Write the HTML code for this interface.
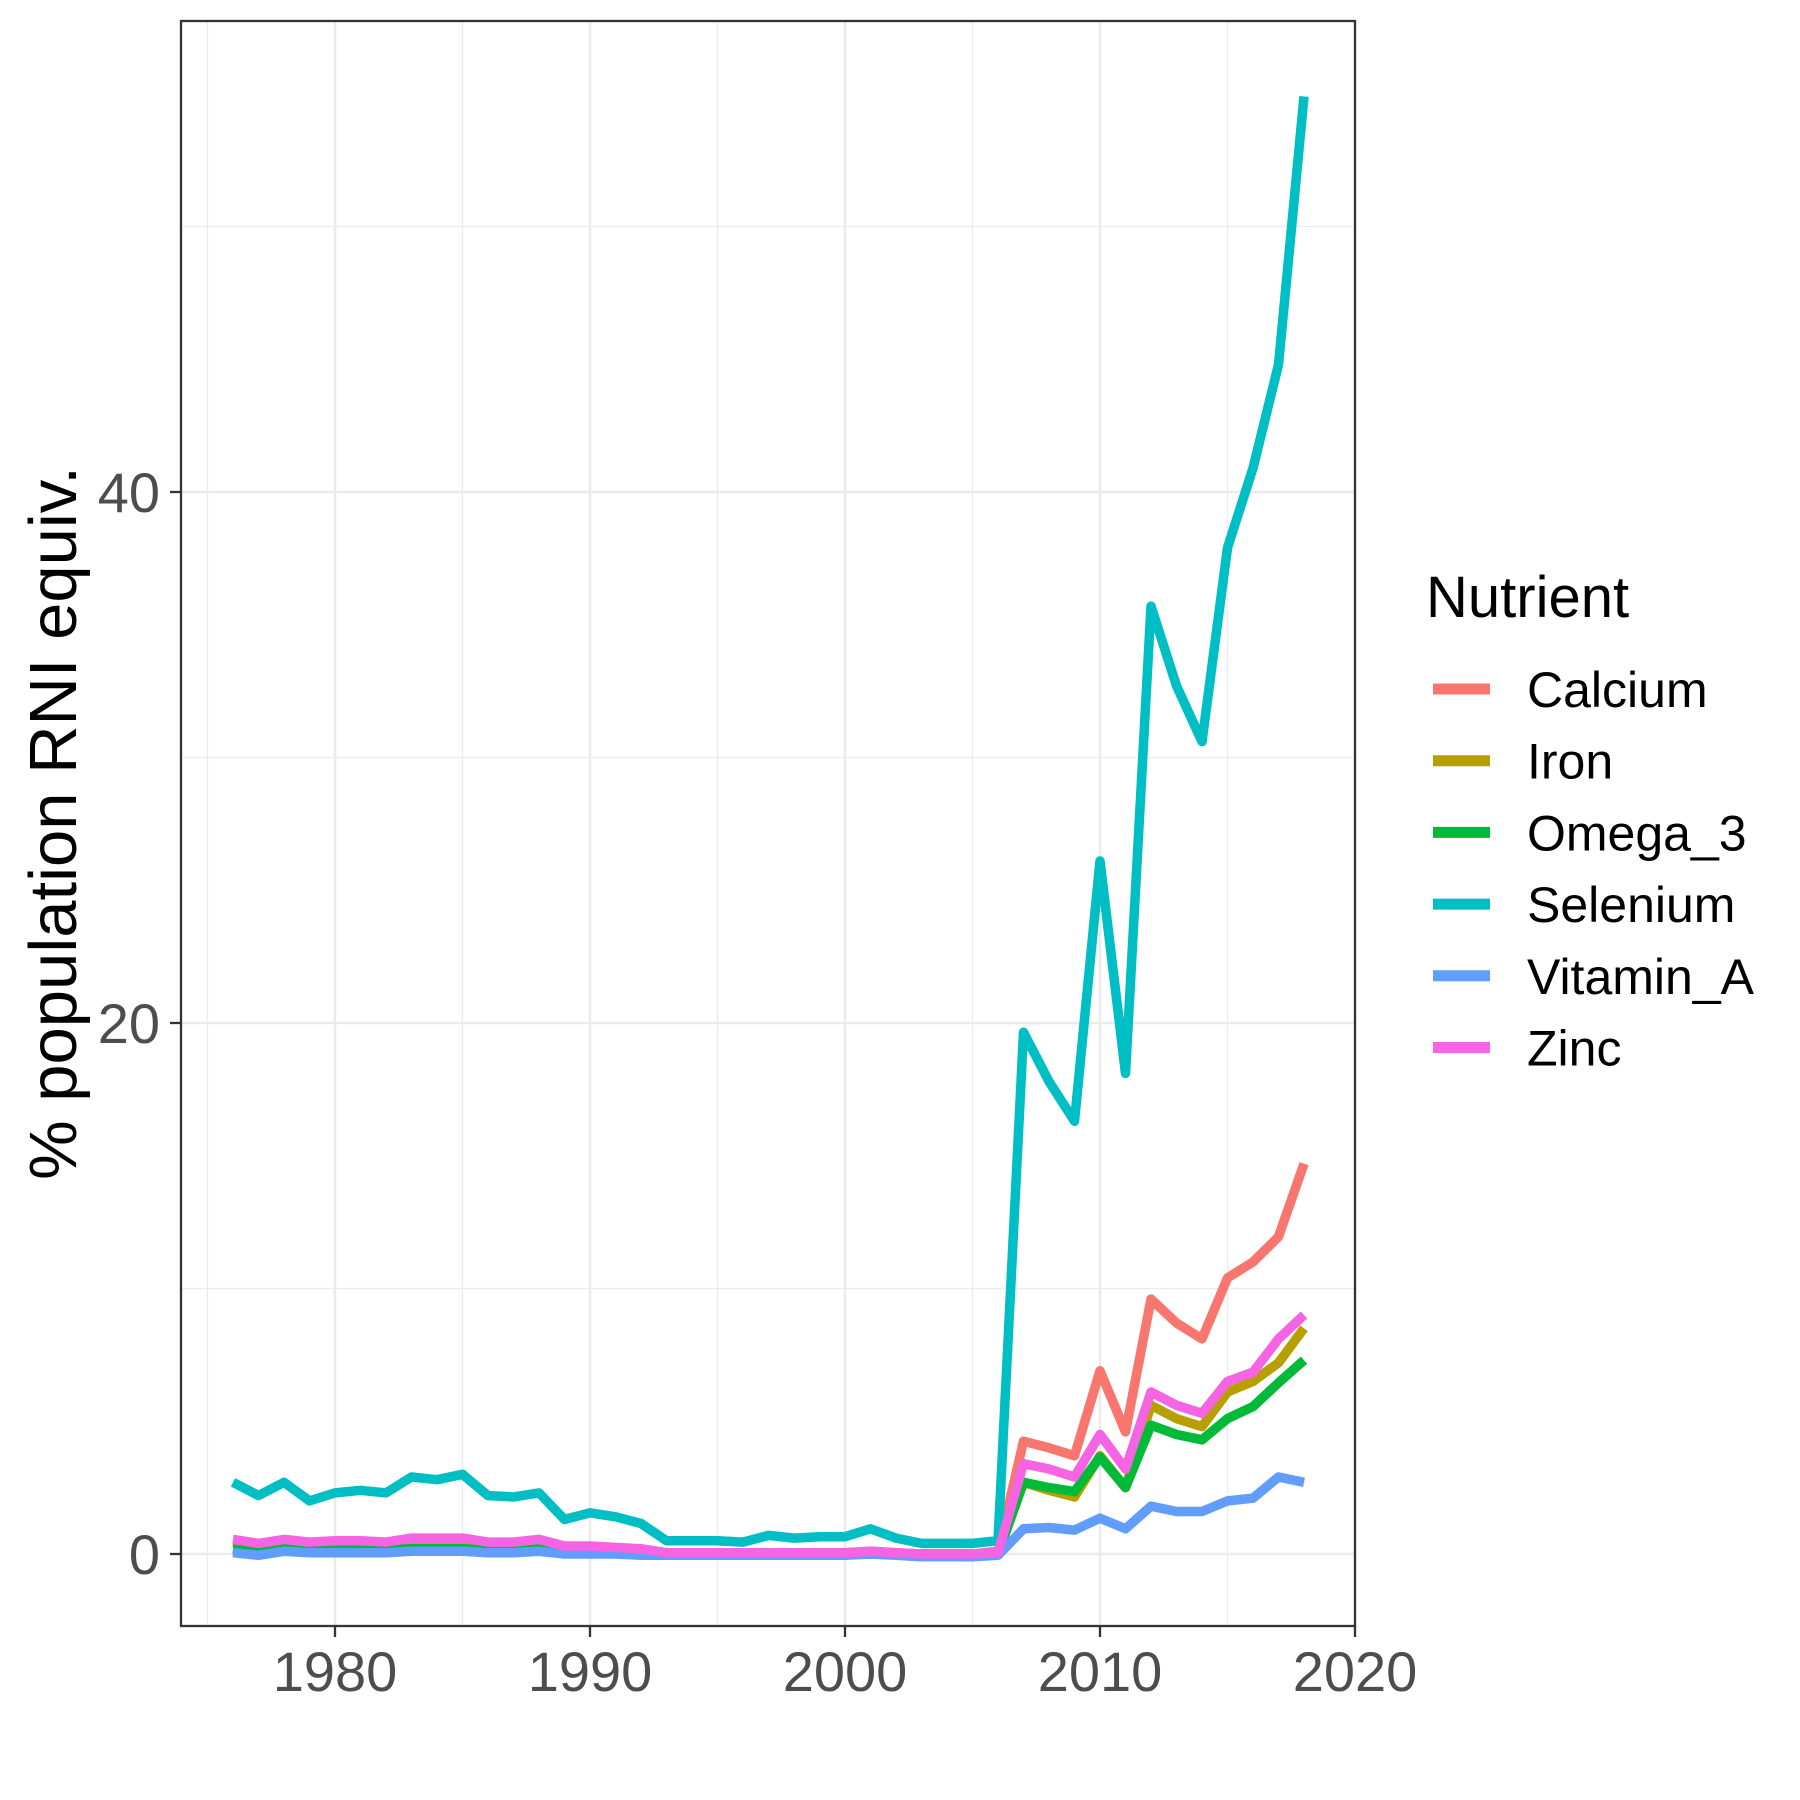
<!DOCTYPE html>
<html><head><meta charset="utf-8">
<style>
html,body{margin:0;padding:0;background:#fff;}
svg{display:block;font-family:"Liberation Sans",Arial,sans-serif;}
</style></head>
<body>
<svg id="chart" width="1800" height="1800" viewBox="0 0 1800 1800" xmlns="http://www.w3.org/2000/svg">
<rect x="0" y="0" width="1800" height="1800" fill="#fff"/>
<g id="grid"></g>
<g id="series"></g>
<rect x="181" y="21" width="1174" height="1605" fill="none" stroke="#333" stroke-width="2.3"/>
<g id="axes"></g>
<text x="0" y="0" transform="translate(76,823) rotate(-90)" text-anchor="middle" font-size="67" fill="#000">% population RNI equiv.</text>
<g id="legend">
<text x="1426" y="617" font-size="58" fill="#000">Nutrient</text>
</g>
</svg>
<script>
const years = [];
for (let y = 1976; y <= 2018; y++) years.push(y);
const seriesNames = ["Calcium","Iron","Omega_3","Selenium","Vitamin_A","Zinc"];
const colors = ["#F8766D","#B79F00","#00BA38","#00BFC4","#619CFF","#F564E3"];
const calcium = [0.45,0.3,0.45,0.35,0.4,0.4,0.35,0.5,0.5,0.5,0.4,0.4,0.45,0.25,0.25,0.2,0.15,0.05,0.05,0.05,0.05,0.05,0.05,0.05,0.05,0.1,0.05,0.0,0.0,0.0,0.1,4.25,4.0,3.7,6.9,4.6,9.6,8.7,8.1,10.4,11.0,11.95,14.7];
const iron = [0.15,0.05,0.15,0.1,0.1,0.1,0.1,0.15,0.15,0.15,0.1,0.1,0.15,0.05,0.05,0.05,0.05,0.0,0.0,0.0,0.0,0.0,0.0,0.0,0.0,0.0,0.0,0.0,0.0,0.0,0.0,2.7,2.4,2.15,3.7,2.5,5.6,5.1,4.8,6.1,6.5,7.2,8.5];
const omega3 = [0.2,0.1,0.2,0.15,0.15,0.15,0.15,0.2,0.2,0.2,0.15,0.15,0.2,0.1,0.1,0.1,0.05,0.0,0.0,0.0,0.0,0.0,0.0,0.0,0.0,0.0,0.0,0.0,0.0,0.0,0.0,2.7,2.5,2.35,3.65,2.5,4.85,4.5,4.3,5.1,5.55,6.45,7.3];
const selenium = [2.7,2.2,2.7,2.0,2.3,2.4,2.3,2.9,2.8,3.0,2.2,2.15,2.3,1.3,1.55,1.4,1.15,0.5,0.5,0.5,0.45,0.7,0.6,0.65,0.65,0.95,0.6,0.4,0.4,0.4,0.5,19.65,17.8,16.3,26.1,18.1,35.7,32.7,30.6,37.9,40.9,44.8,54.9];
const vitaminA = [0.05,-0.05,0.1,0.05,0.05,0.05,0.05,0.1,0.1,0.1,0.05,0.05,0.1,0.0,0.0,0.0,-0.05,-0.05,-0.05,-0.05,-0.05,-0.05,-0.05,-0.05,-0.05,0.0,-0.05,-0.1,-0.1,-0.1,-0.05,0.95,1.0,0.9,1.35,0.95,1.8,1.6,1.6,2.0,2.1,2.9,2.7];
const zinc = [0.55,0.4,0.55,0.45,0.5,0.5,0.45,0.6,0.6,0.6,0.45,0.45,0.55,0.3,0.3,0.25,0.2,0.05,0.05,0.05,0.05,0.05,0.05,0.05,0.05,0.1,0.05,0.0,0.0,0.0,0.05,3.4,3.2,2.9,4.5,3.2,6.1,5.6,5.3,6.5,6.85,8.1,9.0];
const xTicks = [1980,1990,2000,2010,2020];
const yTicks = [0,20,40];
const xMinor = [1975,1985,1995,2005,2015];
const yMinor = [10,30,50];

const NS = "http://www.w3.org/2000/svg";
const PL = 181, PR = 1355, PT = 21, PB = 1626;
function xs(v){ return 335 + (v - 1980) * 25.5; }
function ys(v){ return 1554 - v * 26.55; }
function mk(tag, attrs, parent){
  const e = document.createElementNS(NS, tag);
  for (const k in attrs) e.setAttribute(k, attrs[k]);
  parent.appendChild(e);
  return e;
}
const grid = document.getElementById("grid");
xMinor.forEach(v => {
  const l = mk("line", {x1: xs(v), x2: xs(v), y1: PT, y2: PB, stroke: "#ebebeb", "stroke-width": 1.3}, grid);
  
  
});
yMinor.forEach(v => {
  const l = mk("line", {x1: PL, x2: PR, y1: ys(v), y2: ys(v), stroke: "#ebebeb", "stroke-width": 1.3}, grid);
  
  
});
xTicks.forEach(v => {
  const l = mk("line", {x1: xs(v), x2: xs(v), y1: PT, y2: PB, stroke: "#ebebeb", "stroke-width": 2.6}, grid);
  
  
});
yTicks.forEach(v => {
  const l = mk("line", {x1: PL, x2: PR, y1: ys(v), y2: ys(v), stroke: "#ebebeb", "stroke-width": 2.6}, grid);
  
  
});
const axes = document.getElementById("axes");
xTicks.forEach(v => {
  const t = mk("line", {x1: xs(v), x2: xs(v), y1: PB, y2: PB + 11, stroke: "#333", "stroke-width": 2.3}, axes);
  
  
  const tx = mk("text", {x: xs(v), y: 1691, "text-anchor": "middle", "font-size": 56, fill: "#4d4d4d"}, axes);
  tx.textContent = v;
  
  
});
yTicks.forEach(v => {
  const t = mk("line", {x1: PL - 11, x2: PL, y1: ys(v), y2: ys(v), stroke: "#333", "stroke-width": 2.3}, axes);
  
  
  const tx = mk("text", {x: 160, y: ys(v) + 20, "text-anchor": "end", "font-size": 56, fill: "#4d4d4d"}, axes);
  tx.textContent = v;
  
  
});
const data = [calcium, iron, omega3, selenium, vitaminA, zinc];
const sg = document.getElementById("series");
data.forEach((arr, i) => {
  const pts = arr.map((v, j) => xs(years[j]).toFixed(1) + "," + ys(v).toFixed(1)).join(" ");
  const p = mk("polyline", {points: pts, fill: "none", stroke: colors[i], "stroke-width": 9.5, "stroke-linejoin": "round"}, sg);
  
  
});
const lg = document.getElementById("legend");
seriesNames.forEach((n, i) => {
  const y = 689 + i * 71.7;
  const k = mk("line", {x1: 1433, x2: 1490, y1: y, y2: y, stroke: colors[i], "stroke-width": 11}, lg);
  
  
  const t = mk("text", {x: 1527, y: y + 18, "font-size": 50, fill: "#000"}, lg);
  t.textContent = n;
  
  
});
</script>
</body></html>
